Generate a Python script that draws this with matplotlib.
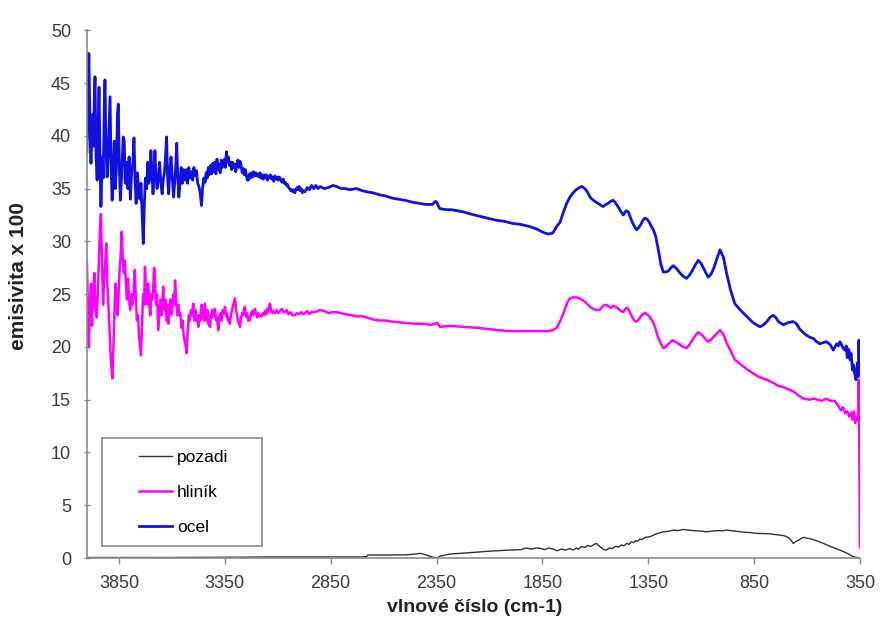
import matplotlib

matplotlib.use("Agg")
import matplotlib.pyplot as plt
from matplotlib.patches import Rectangle

plt.rcParams["font.family"] = ["Liberation Sans", "DejaVu Sans"]

# ocel (steel) - wavenumber [cm-1], emissivity x 100
ocel_x = [4001, 3996, 3992, 3986, 3982, 3976, 3971, 3967, 3963, 3958, 3953, 3948, 3944, 3939, 3935,
          3929, 3924, 3920, 3916, 3911, 3906, 3901, 3897, 3892, 3887, 3882, 3877, 3872, 3867, 3862,
          3857, 3853, 3848, 3843, 3838, 3834, 3830, 3825, 3820, 3814, 3808, 3802, 3796, 3790, 3784,
          3779, 3774, 3769, 3763, 3757, 3751, 3746, 3741, 3737, 3735, 3730, 3725, 3719, 3714, 3709,
          3704, 3699, 3694, 3689, 3684, 3680, 3675, 3670, 3664, 3658, 3652, 3646, 3640, 3635, 3630,
          3625, 3620, 3615, 3610, 3604, 3598, 3592, 3587, 3582, 3577, 3572, 3567, 3561, 3556, 3550,
          3544, 3538, 3532, 3526, 3520, 3514, 3508, 3502, 3496, 3490, 3484, 3478, 3472, 3466, 3460,
          3455, 3449, 3443, 3438, 3433, 3428, 3423,
          3418, 3412, 3407, 3402, 3397, 3392, 3387, 3382, 3377, 3372, 3367, 3362, 3357, 3352, 3347,
          3342, 3338, 3333, 3328, 3323, 3318, 3313, 3308, 3303, 3298, 3293, 3288, 3283, 3278, 3273,
          3268, 3263, 3258, 3253, 3248, 3243, 3239, 3234, 3229, 3224, 3219, 3214, 3209, 3204, 3199,
          3194, 3189, 3184, 3179, 3174, 3169, 3164, 3159, 3154, 3149, 3144, 3139, 3134, 3129, 3124,
          3119, 3114, 3109, 3104, 3099, 3094, 3089, 3084, 3079, 3074, 3069, 3064, 3059, 3054, 3049,
          3044, 3039, 3034, 3029, 3024, 3019, 3014, 3009, 3004, 2999, 2994, 2989, 2984, 2979, 2971,
          2960, 2950, 2940, 2930, 2920, 2910, 2900, 2880, 2860, 2840, 2822, 2800, 2780, 2760, 2727,
          2700, 2680, 2650, 2617, 2590, 2560, 2530, 2500, 2460, 2430, 2400, 2370, 2355, 2349, 2340,
          2334, 2300, 2280, 2250, 2224, 2190, 2150, 2110, 2066, 2030, 1990, 1950, 1909, 1880, 1860,
          1840, 1822, 1800, 1783, 1767, 1750, 1735, 1720, 1705, 1690, 1675, 1665, 1655, 1645, 1635,
          1625, 1610, 1595, 1580, 1563, 1550, 1540, 1527, 1515, 1503, 1490, 1478, 1468, 1455, 1444,
          1435, 1425, 1415, 1405, 1395, 1385, 1375, 1366, 1355, 1345, 1335, 1326, 1315, 1305, 1290,
          1279, 1267, 1255, 1243, 1232, 1215, 1200, 1185, 1169, 1155, 1140, 1127, 1114, 1100, 1090,
          1078, 1067, 1053, 1040, 1025, 1011, 995, 980, 960, 941, 915, 885, 855, 822, 805, 790, 775,
          760, 748, 735, 712, 690, 665, 650, 635, 620, 602, 585, 570, 555, 539, 525, 508, 490, 476,
          468, 460, 452, 445, 437, 430, 421, 415, 410, 405, 400, 397, 392, 385, 380, 375, 369, 365,
          362, 358, 355, 352, 350]
ocel_y = [38.5, 45.0, 47.8, 40.0, 37.4, 42.0, 39.0, 43.0, 45.6, 38.0, 35.8, 41.0, 44.6, 37.0, 33.3,
          38.0, 36.0, 42.0, 45.3, 39.0, 36.1, 38.0, 40.5, 43.7, 37.0, 33.9, 37.0, 39.5, 35.0, 37.0,
          42.0, 43.0, 37.0, 33.9, 36.0, 38.0, 39.9, 39.5, 35.5, 37.5, 35.0, 38.0, 34.0, 36.5, 37.5,
          39.8, 36.0, 33.6, 36.5, 35.0, 34.0, 35.5, 33.0, 31.0, 29.8, 33.5, 36.0, 35.0, 37.5, 35.5,
          36.0, 38.6, 36.5, 34.5, 36.5, 38.6, 36.0, 35.0, 36.0, 37.5, 35.5, 34.5, 36.0, 36.5, 38.0,
          39.9, 36.0, 34.5, 36.5, 38.0, 36.0, 34.2, 35.5, 37.0, 39.3, 36.0, 34.2, 35.8, 37.0, 35.5,
          36.8, 35.8, 36.8, 35.5, 37.0, 36.0, 36.6, 35.8, 37.0, 36.2, 36.7, 35.5, 35.2, 34.5, 33.4,
          35.0, 36.0, 35.6, 36.5, 36.0, 37.0, 36.3,
          37.2, 36.4, 37.4, 36.6, 37.5, 36.4, 37.8, 36.8, 37.3, 36.5, 37.7, 37.0, 37.5, 37.8, 37.0,
          38.5, 37.5, 38.0, 37.2, 37.5, 36.8, 37.5, 37.0, 37.3, 36.6, 37.4, 37.7, 37.0, 37.6, 37.2,
          36.5, 36.9, 36.3, 36.8, 36.2, 35.8, 35.8, 36.4, 36.0, 36.5, 36.1, 36.6, 36.2, 36.5, 36.2,
          36.4, 36.1, 36.5, 36.0, 36.3, 35.9, 36.3, 36.0, 36.3, 35.8, 36.2, 36.0, 36.3, 35.9, 36.1,
          35.7, 36.2, 35.9, 36.1, 35.8, 36.1, 36.0, 35.7, 35.6, 35.9, 35.5, 35.6, 35.3, 35.4, 35.1,
          35.0, 34.8, 34.9, 34.7, 34.9, 34.6, 34.9, 35.1, 34.9, 35.2, 34.8, 35.0, 34.6, 34.8, 34.7,
          35.1, 34.9, 35.3, 35.0, 35.3, 35.0, 35.2, 35.0, 35.1, 35.3, 35.2, 35.0, 35.0, 34.9, 35.0,
          34.8, 34.7, 34.6, 34.4, 34.3, 34.1, 34.0, 33.9, 33.7, 33.6, 33.5, 33.5, 33.8, 33.7, 33.3,
          33.1, 33.0, 33.0, 32.9, 32.8, 32.6, 32.4, 32.2, 32.0, 31.9, 31.7, 31.6, 31.4, 31.2, 31.0,
          30.8, 30.7, 30.8, 31.4, 31.8, 32.8, 33.6, 34.2, 34.6, 34.9, 35.1, 35.2, 35.1, 34.9, 34.6,
          34.2, 33.9, 33.7, 33.5, 33.3, 33.5, 33.6, 33.8, 33.9, 33.6, 33.2, 32.8, 32.5, 32.9, 32.8,
          32.3, 31.8, 31.4, 31.1, 31.3, 31.6, 32.0, 32.2, 32.1, 31.8, 31.4, 31.1, 30.5, 29.5, 27.8,
          27.1, 27.1, 27.2, 27.5, 27.7, 27.4, 27.0, 26.7, 26.5, 26.8, 27.3, 27.8, 28.2, 27.9, 27.5,
          27.0, 26.6, 26.9, 27.5, 28.4, 29.2, 28.5, 27.0, 25.3, 24.1, 23.5, 22.9, 22.3, 21.9, 22.1,
          22.4, 22.8, 23.0, 22.8, 22.4, 22.1, 22.3, 22.4, 22.2, 21.7, 21.4, 21.1, 20.9, 20.8, 20.5,
          20.3, 20.4, 20.5, 20.2, 19.7, 20.0, 20.3, 20.1, 20.5, 20.2, 19.9, 19.7, 20.1, 19.0, 19.8,
          19.6, 18.8, 19.4, 17.8, 18.3, 17.5, 16.9, 17.8, 18.5, 17.2, 20.6, 18.0, 20.6]

# hlinik (aluminium)
hlinik_x = [4001, 3996, 3992, 3987, 3982, 3977, 3972, 3966, 3961, 3955, 3950, 3945, 3940, 3935, 3930,
            3925, 3920, 3915, 3910, 3905, 3900, 3895, 3890, 3885, 3881, 3876, 3871, 3866, 3861, 3856,
            3851, 3846, 3841, 3837, 3832, 3827, 3822, 3817, 3812, 3807, 3802, 3797, 3791, 3785, 3780,
            3775, 3770, 3765, 3760, 3755, 3750, 3746, 3741, 3736, 3731, 3727, 3722, 3717, 3712, 3707,
            3702, 3697, 3692, 3687, 3684, 3680, 3675, 3670, 3664, 3659, 3654, 3649, 3644, 3641, 3636,
            3631, 3626, 3621, 3617, 3612, 3607, 3602, 3597, 3592, 3588, 3585, 3580, 3575, 3570, 3565,
            3560, 3555, 3549, 3544, 3539, 3534, 3530, 3525, 3520, 3515, 3510, 3504, 3499, 3494, 3489,
            3484, 3479, 3475, 3470, 3465, 3460, 3456, 3452, 3448, 3444, 3440, 3436,
            3432, 3428, 3420, 3415, 3410, 3405, 3400, 3396, 3391, 3386, 3381, 3376, 3371, 3365, 3360,
            3354, 3349, 3344, 3340, 3335, 3330, 3326, 3321, 3316, 3311, 3307, 3302, 3297, 3292, 3288,
            3283, 3278, 3273, 3268, 3264, 3259, 3255, 3250, 3245, 3240, 3236, 3231, 3226, 3221, 3216,
            3211, 3207, 3202, 3197, 3192, 3187, 3182, 3176, 3170, 3165, 3160, 3155, 3150, 3145, 3140,
            3137, 3130, 3125, 3120, 3113, 3105, 3098, 3090, 3080, 3072, 3066, 3058, 3050, 3040, 3030,
            3019, 3010, 3000, 2990, 2980, 2971, 2960, 2950, 2940, 2924, 2910, 2900, 2880, 2860, 2840,
            2822, 2800, 2780, 2750, 2727, 2700, 2680, 2650, 2617, 2590, 2560, 2510, 2460, 2420, 2380,
            2355, 2349, 2340, 2334, 2290, 2224, 2150, 2066, 2000, 1950, 1909, 1860, 1822, 1800, 1783,
            1767, 1750, 1740, 1730, 1720, 1705, 1690, 1675, 1665, 1650, 1640, 1625, 1610, 1595, 1580,
            1563, 1550, 1540, 1527, 1515, 1503, 1490, 1478, 1468, 1455, 1444, 1435, 1425, 1415, 1405,
            1395, 1385, 1375, 1366, 1355, 1345, 1335, 1326, 1315, 1305, 1290, 1279, 1267, 1255, 1243,
            1232, 1215, 1200, 1185, 1169, 1155, 1140, 1127, 1114, 1100, 1090, 1078, 1067, 1053, 1040,
            1025, 1011, 995, 980, 960, 941, 910, 885, 855, 822, 790, 760, 735, 712, 690, 665, 640,
            615, 590, 570, 550, 530, 510, 490, 470, 455, 440, 430, 420, 410, 400, 392, 385, 378, 372,
            366, 360, 356, 353, 350]
hlinik_y = [27.9, 23.0, 20.0, 24.0, 26.0, 22.0, 25.0, 27.0, 23.5, 22.8, 25.0, 28.0, 31.0, 32.6, 28.0,
            24.0, 26.5, 28.0, 29.8, 26.0, 24.0, 22.0, 19.5, 18.0, 17.0, 20.0, 23.5, 26.0, 24.0, 23.0,
            25.5, 27.5, 29.0, 30.9, 28.5, 27.0, 28.2, 26.0, 24.5, 26.5, 24.5, 23.5, 25.0, 24.0, 25.5,
            27.3, 24.5, 22.5, 23.0, 21.0, 20.0, 19.2, 22.0, 25.0, 24.0, 27.6, 25.0, 24.0, 26.0, 24.5,
            23.0, 25.0, 24.5, 26.0, 27.5, 26.5, 24.0, 25.0, 21.6, 23.0, 24.5, 23.0, 24.5, 25.7, 23.5,
            24.5, 22.5, 24.0, 22.2, 23.5, 24.5, 23.0, 24.0, 25.0, 24.0, 26.3, 24.5, 23.0, 24.0, 23.0,
            23.2, 21.8, 22.5, 21.0, 20.5, 20.0, 19.4, 21.5, 23.0, 22.5, 23.5, 23.0, 24.1, 22.5, 23.5,
            22.5, 23.0, 21.9, 23.0, 22.5, 24.0, 22.8, 23.5, 22.5, 24.1, 23.0, 22.5,
            23.5, 22.2, 21.9, 23.0, 23.5, 22.8, 23.4, 23.6, 22.5, 22.8, 21.6, 22.8, 23.2, 22.5, 23.5,
            23.2, 23.8, 22.9, 23.2, 22.5, 22.8, 22.2, 23.0, 23.5, 23.9, 24.2, 24.6, 23.5, 23.0, 22.5,
            22.2, 21.9, 22.8, 23.2, 23.0, 23.6, 23.8, 22.9, 23.2, 22.5, 22.8, 22.5, 23.2, 23.4, 23.0,
            23.5, 23.6, 23.1, 22.8, 23.2, 22.9, 23.0, 22.9, 23.2, 23.0, 23.4, 23.1, 23.6, 23.3, 23.9,
            24.1, 23.4, 23.2, 23.4, 23.2, 23.5, 23.2, 23.4, 23.6, 23.3, 23.3, 23.5, 23.1, 23.3, 23.0,
            23.0, 23.2, 23.1, 23.3, 23.1, 23.2, 23.4, 23.1, 23.3, 23.3, 23.4, 23.5, 23.4, 23.2, 23.3,
            23.3, 23.2, 23.1, 23.0, 22.9, 22.9, 22.8, 22.6, 22.5, 22.5, 22.4, 22.3, 22.2, 22.2, 22.1,
            22.2, 22.3, 22.1, 21.9, 22.0, 21.9, 21.8, 21.6, 21.5, 21.5, 21.5, 21.5, 21.5, 21.6, 21.8,
            22.4, 23.2, 23.8, 24.3, 24.6, 24.7, 24.7, 24.6, 24.5, 24.3, 24.1, 23.8, 23.6, 23.5, 23.5,
            23.9, 24.0, 23.9, 23.7, 23.9, 23.8, 23.6, 23.4, 23.3, 23.7, 23.6, 23.2, 22.8, 22.5, 22.4,
            22.6, 22.9, 23.1, 23.2, 23.1, 22.9, 22.6, 22.3, 21.7, 21.0, 20.3, 19.9, 20.0, 20.3, 20.5,
            20.6, 20.4, 20.2, 20.0, 19.9, 20.2, 20.7, 21.1, 21.4, 21.2, 21.0, 20.7, 20.5, 20.7, 21.0,
            21.3, 21.6, 21.2, 20.4, 19.6, 18.8, 18.3, 17.9, 17.5, 17.1, 16.9, 16.6, 16.3, 16.2, 16.0,
            15.8, 15.4, 15.1, 15.0, 15.1, 15.0, 14.9, 15.1, 14.9, 14.9, 14.5, 14.0, 14.3, 13.7, 13.9,
            13.4, 13.8, 13.1, 13.9, 12.8, 13.3, 13.1, 16.9, 10.2, 1.0]

# pozadi (background)
pozadi_x = [4001, 3700, 3400, 3151, 2950, 2700, 2680, 2674, 2500, 2440, 2428, 2400, 2370, 2349,
            2330, 2287, 2200, 2100, 2003, 1950, 1930, 1900, 1880, 1861, 1840, 1820, 1800, 1780,
            1760, 1740, 1720, 1706, 1690, 1680, 1665, 1650, 1635, 1620, 1605, 1594, 1580, 1570,
            1560, 1547, 1535, 1520, 1505, 1490, 1475, 1465, 1452, 1440, 1430, 1420, 1410, 1400,
            1390, 1380, 1365, 1342, 1310, 1279, 1250, 1230, 1210, 1185, 1150, 1120, 1100, 1074,
            1050, 1030, 1000, 980, 940, 900, 870, 838, 780, 740, 710, 696, 680, 665, 650, 640,
            618, 580, 550, 523, 490, 445, 410, 382, 365, 350]
pozadi_y = [0.05, 0.05, 0.07, 0.10, 0.10, 0.10, 0.15, 0.28, 0.30, 0.40, 0.45, 0.30, 0.10, 0.00,
            0.20, 0.38, 0.50, 0.65, 0.76, 0.80, 0.95, 0.85, 0.95, 0.92, 0.80, 0.95, 0.85, 0.70,
            0.85, 0.75, 0.90, 0.76, 0.95, 0.85, 1.10, 1.00, 1.20, 1.10, 1.30, 1.39, 1.10, 0.95,
            0.80, 0.76, 0.95, 0.90, 1.10, 1.05, 1.25, 1.15, 1.39, 1.30, 1.55, 1.45, 1.65, 1.60,
            1.80, 1.75, 1.95, 2.02, 2.30, 2.49, 2.55, 2.65, 2.60, 2.71, 2.62, 2.58, 2.55, 2.49,
            2.55, 2.60, 2.58, 2.65, 2.55, 2.45, 2.42, 2.34, 2.30, 2.20, 2.12, 2.02, 1.80, 1.39,
            1.60, 1.70, 1.96, 1.80, 1.60, 1.39, 1.10, 0.76, 0.45, 0.13, 0.05, 0.00]

x_ticks = [3850, 3350, 2850, 2350, 1850, 1350, 850, 350]
y_ticks = [0, 5, 10, 15, 20, 25, 30, 35, 40, 45, 50]

fig = plt.figure(figsize=(8.82, 6.18), dpi=100)
ax = fig.add_axes([0.0986, 0.097, 0.8764, 0.854])

ax.plot(pozadi_x, pozadi_y, color="#303030", lw=1.0, label="pozadi")
ax.plot(hlinik_x, hlinik_y, color="#ff00ff", lw=1.8, label="hliník")
ax.plot(ocel_x, ocel_y, color="#1010e0", lw=2.0, label="ocel")

ax.set_xlim(4001, 350)
ax.set_ylim(0, 50)
ax.set_xticks(x_ticks)
ax.set_yticks(y_ticks)

for side in ("top", "right"):
    ax.spines[side].set_visible(False)
for side in ("left", "bottom"):
    ax.spines[side].set_color("#8a8a8a")
    ax.spines[side].set_linewidth(1.2)

ax.tick_params(axis="x", direction="out", length=4, width=1, color="#8a8a8a",
               labelsize=13, labelcolor="#3a3a3a", pad=8)
ax.tick_params(axis="y", direction="inout", length=5, width=1, color="#8a8a8a",
               labelsize=13, labelcolor="#3a3a3a", pad=9)

ax.set_xlabel("vlnové číslo (cm-1)", fontsize=14, fontweight="bold", color="#222222")
ax.xaxis.set_label_coords(0.502, -0.078)
ax.set_ylabel("emisivita x 100", fontsize=15, fontweight="bold", color="#222222")
ax.yaxis.set_label_coords(-0.076, 0.534)

# legend frame drawn by hand, the box is wider than its content
ax.add_patch(Rectangle((0.019, 0.023), 0.208, 0.205, transform=ax.transAxes,
                       facecolor="white", edgecolor="#8a8a8a", lw=1.2, zorder=4))
leg = ax.legend(loc="upper left", bbox_to_anchor=(0.067, 0.205), frameon=False,
                fontsize=12.5, handlelength=1.9, handletextpad=0.3, labelspacing=1.15,
                borderaxespad=0, borderpad=0)
leg.set_zorder(5)

fig.savefig("out.png", dpi=100)
